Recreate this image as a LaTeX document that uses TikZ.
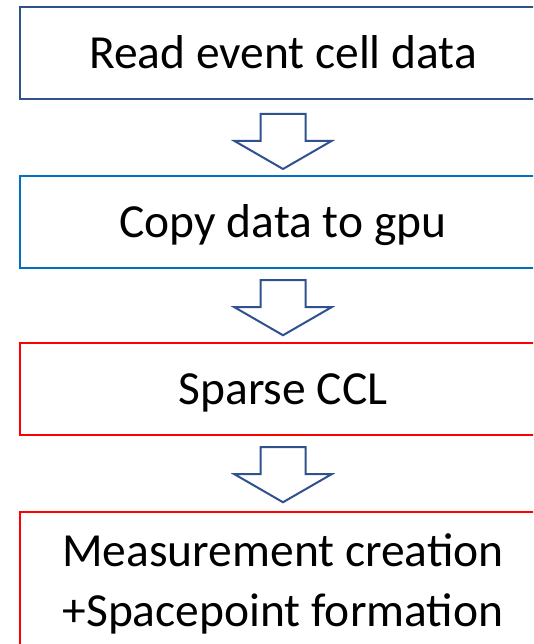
\documentclass[tikz,border=0pt]{standalone}
\usepackage{fontspec}
\setmainfont{Carlito}
\usetikzlibrary{calc}

\definecolor{navyline}{HTML}{2F528F}
\definecolor{azureline}{HTML}{0070C0}
\definecolor{redline}{HTML}{FF0000}

\tikzset{
  stage/.style={draw, fill=white, minimum width=526pt, minimum height=92pt,
    inner sep=0pt, text height=40pt, text depth=8.5pt, align=center,
    font=\fontsize{47.5}{60}\selectfont},
  blockline/.style={draw=navyline, line width=2pt, fill=white, line join=miter},
  blockarrow/.pic={
    \path[blockline] (-22.5,0) -- (22.5,0) -- (22.5,-27) -- (48.5,-27)
      -- (0,-55) -- (-48.5,-27) -- (-22.5,-27) -- cycle;
  }
}

\begin{document}
\begin{tikzpicture}[x=1pt, y=1pt]
  \useasboundingbox (0,0) rectangle (533,644);
  \fill[white] (0,0) rectangle (533,644);
  \clip (0,0) rectangle (533,644);

  % processing stages
  \node[stage, draw=navyline, line width=2pt]  (read) at (283,591) {Read event cell data};
  \node[stage, draw=azureline, line width=2.5pt] (copy) at (283,422) {Copy data to gpu};
  \node[stage, draw=redline, line width=2.5pt] (ccl)  at (283,255) {Sparse CCL};
  % two-line box: the vbox baseline is the last line, so its height spans both lines
  \node[stage, draw=redline, line width=2.5pt, minimum height=138pt,
        text height=100pt] (meas) at (283,63)
    {Measurement creation\\+Spacepoint formation};

  % block arrows between stages
  \pic at ($(read.south)+(0,-14)$) {blockarrow};
  \pic at ($(copy.south)+(0,-11)$) {blockarrow};
  \pic at ($(ccl.south)+(0,-11)$) {blockarrow};
\end{tikzpicture}
\end{document}
